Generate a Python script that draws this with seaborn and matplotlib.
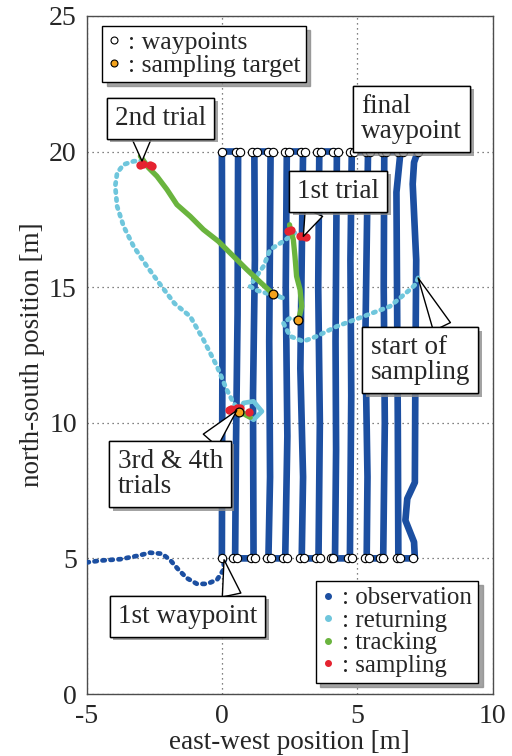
import numpy as np
import pandas as pd
import matplotlib
matplotlib.use("Agg")
import matplotlib.pyplot as plt
import matplotlib.patheffects as pe
from matplotlib.lines import Line2D
import seaborn as sns

# ---- data (metres) ----
# lawnmower observation run (vertices of the track)
obs_x = [0.08, 0.0, 0.02, 0.0,
         0.6, 0.58, 0.52, 0.49,
         1.17, 1.15, 1.22, 1.2,
         1.8, 1.75, 1.78, 1.72,
         2.34, 2.42, 2.36, 2.4,
         3.0, 2.9, 3.0, 2.95,
         3.57, 3.62, 3.56, 3.6,
         4.25, 4.2, 4.22, 4.18,
         4.73, 4.78, 4.75, 4.8,
         5.4, 5.3, 5.38, 5.35,
         5.96, 6.02, 5.98, 6.0,
         6.6, 6.45, 6.5, 6.52,
         7.13, 7.1, 6.78, 6.85, 7.13, 7.15, 7.18, 7.05, 7.1, 7.24]
obs_y = [4.95, 5.0, 12.5, 20.0,
         20.0, 14.0, 9.0, 5.0,
         5.0, 11.0, 16.0, 20.0,
         20.0, 13.0, 8.0, 5.0,
         5.0, 9.5, 15.0, 20.0,
         20.0, 12.0, 8.0, 5.0,
         5.0, 10.0, 15.0, 20.0,
         20.0, 13.0, 9.0, 5.0,
         5.0, 11.0, 16.0, 20.0,
         20.0, 13.0, 8.0, 5.0,
         5.0, 10.0, 15.0, 20.0,
         20.0, 18.5, 10.0, 5.0,
         5.0, 5.6, 6.4, 7.2, 7.8, 12.0, 16.0, 18.8, 19.6, 20.0]

# approach from the west to the 1st waypoint
west_x = [-5.0, -4.49, -3.75, -3.14, -2.65, -2.21, -1.91, -1.60, -1.29, -0.92, -0.55, -0.18, 0.06, 0.08]
west_y = [4.85, 4.92, 4.97, 5.09, 5.21, 5.17, 4.94, 4.58, 4.27, 4.06, 4.06, 4.21, 4.58, 4.94]

# returning segments
ret1_x = [7.25, 7.15, 6.95, 6.21, 5.23, 4.24, 3.51, 3.01, 2.52, 2.27, 2.52, 2.83]
ret1_y = [15.34, 15.1, 14.91, 14.29, 13.92, 13.55, 13.19, 13.0, 13.19, 13.68, 13.86, 13.78]
ret2_x = [2.70, 2.27, 1.78, 1.54, 1.11, 1.04, 1.29, 1.84, 2.27, 1.88]
ret2_y = [17.0, 16.69, 16.38, 15.77, 15.15, 15.03, 14.88, 14.72, 14.6, 14.76]
ret3_x = [-2.65, -3.0, -3.26, -3.63, -3.87, -3.94, -3.87, -3.63, -3.26, -2.77, -2.28,
          -1.75, -1.17, -0.68, -0.18, 0.18, 0.43, 0.6]
ret3_y = [19.5, 19.66, 19.64, 19.52, 19.21, 18.72, 17.98, 17.24, 16.5, 15.77, 15.1,
          14.4, 13.92, 13.06, 12.08, 11.22, 10.73, 10.5]
ret4_x = [0.65, 0.8, 1.17, 1.48, 1.17, 0.8, 0.65]
ret4_y = [10.41, 10.73, 10.79, 10.42, 10.11, 10.36, 10.41]

# tracking segments
trk1_x = [2.83, 2.95, 2.89, 2.76, 2.70, 2.64, 2.52, 2.5]
trk1_y = [13.78, 14.29, 14.9, 15.4, 16.14, 16.75, 17.18, 17.3]
trk2_x = [1.88, 1.4, 0.92, -0.13, -0.68, -1.17, -1.66, -2.03, -2.40, -2.71, -3.01]
trk2_y = [14.76, 15.2, 15.65, 16.69, 17.12, 17.61, 18.04, 18.6, 19.09, 19.4, 19.83]
trk3_x = [0.75, 0.86, 1.05]
trk3_y = [10.4, 10.3, 10.2]

# sampling points
smp_x = [2.46, 2.55, 2.9, 3.01, 3.1, -3.01, -2.9, -2.65, -2.58, 0.25, 0.35, 0.45, 0.55, 0.68, 1.02]
smp_y = [17.06, 17.1, 16.9, 16.87, 16.85, 19.52, 19.55, 19.5, 19.46, 10.48, 10.52, 10.45, 10.55, 10.55, 10.4]

# sampling targets
tgt_x = [2.83, 1.88, 0.65]
tgt_y = [13.78, 14.76, 10.41]

# waypoints
wp_top_x = [0.0, 0.52, 0.68, 1.12, 1.28, 1.72, 1.88, 2.32, 2.48, 2.92, 3.08, 3.52, 3.68,
            4.12, 4.28, 4.72, 4.88, 5.32, 5.48, 5.92, 6.08, 6.52, 6.68, 7.24]
wp_bot_x = [0.0, 0.42, 0.56, 1.07, 1.22, 1.66, 1.81, 2.25, 2.40, 2.88, 3.04, 3.46, 3.62,
            4.02, 4.12, 4.66, 4.80, 5.28, 5.42, 5.84, 5.97, 6.46, 6.58, 7.06]
wp_top_y = [20.0] * len(wp_top_x)
wp_bot_y = [5.0] * len(wp_bot_x)

c_obs = "#1c4fa1"
c_ret = "#6fc6dc"
c_trk = "#6ab43e"
c_smp = "#e52330"
c_tgt = "#f3a21c"

sns.set_style("white")
plt.rcParams["font.family"] = ["Liberation Serif", "DejaVu Serif"]
plt.rcParams["font.size"] = 19
plt.rcParams["axes.unicode_minus"] = False

fig = plt.figure(figsize=(5.12, 7.56), dpi=100)
ax = fig.add_axes([0.169, 0.082, 0.793, 0.897])


def path(xs, ys, color, lw, ls="-"):
    df = pd.DataFrame({"x": xs, "y": ys})
    sns.lineplot(data=df, x="x", y="y", sort=False, estimator=None, color=color,
                 lw=lw, linestyle=ls, dash_capstyle="round", solid_capstyle="round",
                 solid_joinstyle="round", ax=ax, zorder=3)


dots = (0, (0.5, 1.2))
path(west_x, west_y, c_obs, 3.4, dots)
path(obs_x, obs_y, c_obs, 4.8)
for rx, ry in [(ret1_x, ret1_y), (ret2_x, ret2_y), (ret3_x, ret3_y)]:
    path(rx, ry, c_ret, 3.4, dots)
path(ret4_x, ret4_y, c_ret, 3.4)
for tx, ty in [(trk1_x, trk1_y), (trk2_x, trk2_y), (trk3_x, trk3_y)]:
    path(tx, ty, c_trk, 3.8)

sns.scatterplot(x=smp_x, y=smp_y, color=c_smp, s=36, linewidth=0, ax=ax, zorder=4)
sns.scatterplot(x=wp_top_x + wp_bot_x, y=wp_top_y + wp_bot_y, s=36, facecolor="white",
                edgecolor="black", linewidth=0.8, ax=ax, zorder=5)
sns.scatterplot(x=tgt_x, y=tgt_y, s=40, color=c_tgt, edgecolor="black",
                linewidth=0.9, ax=ax, zorder=6)

ax.set_xlim(-5, 10)
ax.set_ylim(0, 25)
ax.set_xticks([-5, 0, 5, 10])
ax.set_yticks([0, 5, 10, 15, 20, 25])
ax.grid(True, linestyle=(0, (1, 3)), color="0.35", lw=0.9)
ax.set_axisbelow(True)
ax.tick_params(direction="in", length=3, width=0.8, color="0.25", labelsize=20, pad=7)
for s in ax.spines.values():
    s.set_color("0.3")
    s.set_linewidth(1)
ax.set_xlabel("east-west position [m]", fontsize=19.5, labelpad=1)
ax.set_ylabel("north-south position [m]", fontsize=19.5, labelpad=3)

# legends
shadow = {"color": "0.55", "alpha": 0.8, "ox": 3, "oy": -3}
h1 = [Line2D([], [], ls="", marker="o", ms=5, mfc="white", mec="black", mew=0.8),
      Line2D([], [], ls="", marker="o", ms=5, mfc=c_tgt, mec="black", mew=0.8)]
leg1 = ax.legend(h1, [": waypoints", ": sampling target"], loc="upper left",
                 bbox_to_anchor=(0.039, 0.985), borderaxespad=0, fancybox=False,
                 shadow=shadow, framealpha=1, edgecolor="black", fontsize=18.5,
                 handlelength=0.5, handletextpad=0.3, labelspacing=0.0,
                 borderpad=0.2)
leg1.get_frame().set_linewidth(1)
ax.add_artist(leg1)
h2 = [Line2D([], [], ls="", marker="o", ms=4, color=c) for c in [c_obs, c_ret, c_trk, c_smp]]
leg2 = ax.legend(h2, [": observation", ": returning", ": tracking", ": sampling"],
                 loc="lower right", bbox_to_anchor=(0.965, 0.016), borderaxespad=0,
                 fancybox=False, shadow=shadow, framealpha=1, edgecolor="black",
                 fontsize=18, handlelength=0.5, handletextpad=0.3, labelspacing=0.0,
                 borderpad=0.25)
leg2.get_frame().set_linewidth(1)


def callout(text, xy, xytext, relpos):
    a = ax.annotate(text, xy=xy, xytext=xytext, ha="center", va="center",
                    multialignment="left", fontsize=19.5, zorder=10, linespacing=1.0,
                    bbox=dict(boxstyle="square,pad=0.3", fc="white", ec="black", lw=1),
                    arrowprops=dict(arrowstyle="wedge,tail_width=0.7", fc="white",
                                    ec="black", lw=1, relpos=relpos, shrinkA=0, shrinkB=0))
    a.get_bbox_patch().set_path_effects(
        [pe.withSimplePatchShadow(offset=(2.5, -2.5), shadow_rgbFace="0.55", alpha=0.8),
         pe.Normal()])


callout("final\nwaypoint", (7.24, 20.0), (7.01, 21.2), (0.7, 0))
callout("2nd trial", (-2.95, 19.65), (-2.26, 21.23), (0.29, 0))
callout("1st trial", (3.01, 16.87), (4.3, 18.53), (0.25, 0))
callout("start of\nsampling", (7.25, 15.34), (7.33, 12.3), (0.76, 1))
callout("3rd & 4th\ntrials", (0.55, 10.45), (-1.91, 8.11), (0.81, 1))
callout("1st waypoint", (0.08, 4.95), (-1.27, 2.87), (0.83, 1))

fig.savefig("out.png", dpi=100)
